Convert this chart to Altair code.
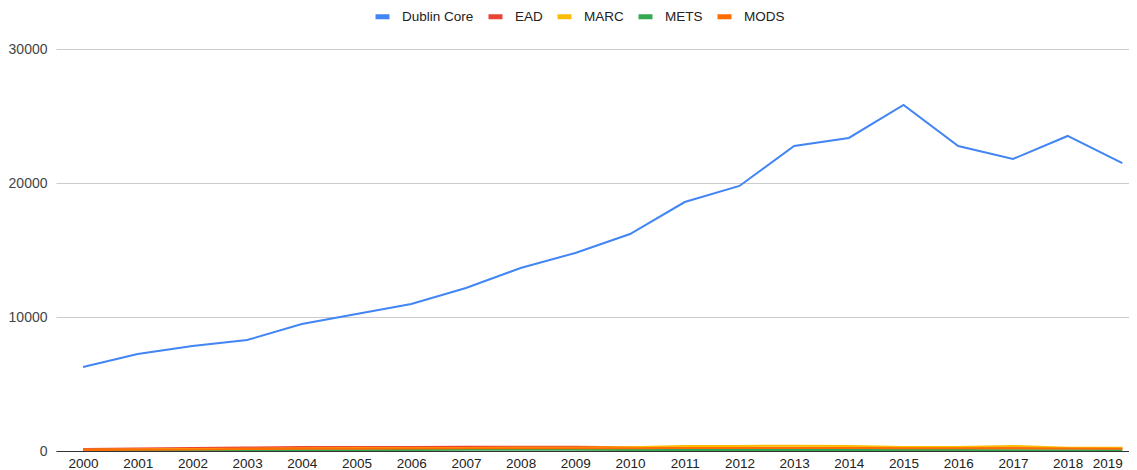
import altair as alt
import pandas as pd

years = list(range(2000, 2020))
series_names = ["Dublin Core", "EAD", "MARC", "METS", "MODS"]
colors = ["#4285F4", "#EA4335", "#FBBC04", "#34A853", "#FF6D01"]

dublin_core = [6270, 7240, 7840, 8280, 9480, 10220, 10970, 12160, 13660, 14780,
               16190, 18580, 19780, 22760, 23360, 25820, 22760, 21790, 23510, 21490]
ead = [150, 180, 220, 260, 300, 300, 300, 320, 310, 310,
       280, 250, 260, 240, 230, 220, 220, 210, 200, 180]
marc = [100, 120, 140, 160, 180, 200, 210, 230, 240, 250,
        280, 380, 380, 400, 370, 300, 290, 380, 250, 250]
mets = [30, 40, 50, 60, 70, 80, 80, 90, 90, 90,
        80, 80, 80, 70, 70, 70, 70, 60, 60, 50]
mods = [80, 100, 120, 140, 160, 170, 180, 200, 200, 210,
        200, 220, 230, 230, 220, 210, 200, 210, 190, 170]

rows = []
for name, vals in zip(series_names, [dublin_core, ead, marc, mets, mods]):
    for y, v in zip(years, vals):
        rows.append({"year": y, "series": name, "value": v})
df = pd.DataFrame(rows)

FONT = "Liberation Sans"

chart = alt.Chart(df).mark_line(strokeWidth=2, clip=True).encode(
    x=alt.X("year:Q",
            scale=alt.Scale(domain=[1999.506, 2019.122], nice=False, zero=False),
            axis=alt.Axis(values=years, format="d", title=None, grid=False, ticks=False,
                          domainColor="#333333", domainWidth=1, labelFont=FONT,
                          labelFontSize=13.5, labelColor="#222222", labelPadding=5,
                          labelFlush=10, labelOverlap=False)),
    y=alt.Y("value:Q",
            scale=alt.Scale(domain=[0, 30000], nice=False),
            axis=alt.Axis(values=[0, 10000, 20000, 30000], format="d", title=None,
                          domain=False, ticks=False, gridColor="#cccccc", labelFont=FONT,
                          labelFontSize=14, labelColor="#444444", labelPadding=9)),
    color=alt.Color("series:N",
                    scale=alt.Scale(domain=series_names, range=colors),
                    legend=alt.Legend(title=None, orient="none", direction="horizontal",
                                      legendX=317, legendY=-42,
                                      symbolType="stroke", symbolSize=196,
                                      symbolStrokeWidth=5, labelFont=FONT,
                                      labelFontSize=13.5, labelColor="#222222",
                                      labelOffset=10, columnPadding=4)),
).properties(
    width=1073,
    height=402,
    autosize=alt.AutoSizeParams(type="none"),
    padding={"left": 48, "top": 41, "right": 0, "bottom": 20},
).configure_view(stroke=None)

chart.save("out.html", embed_options={"renderer": "svg", "actions": False})
